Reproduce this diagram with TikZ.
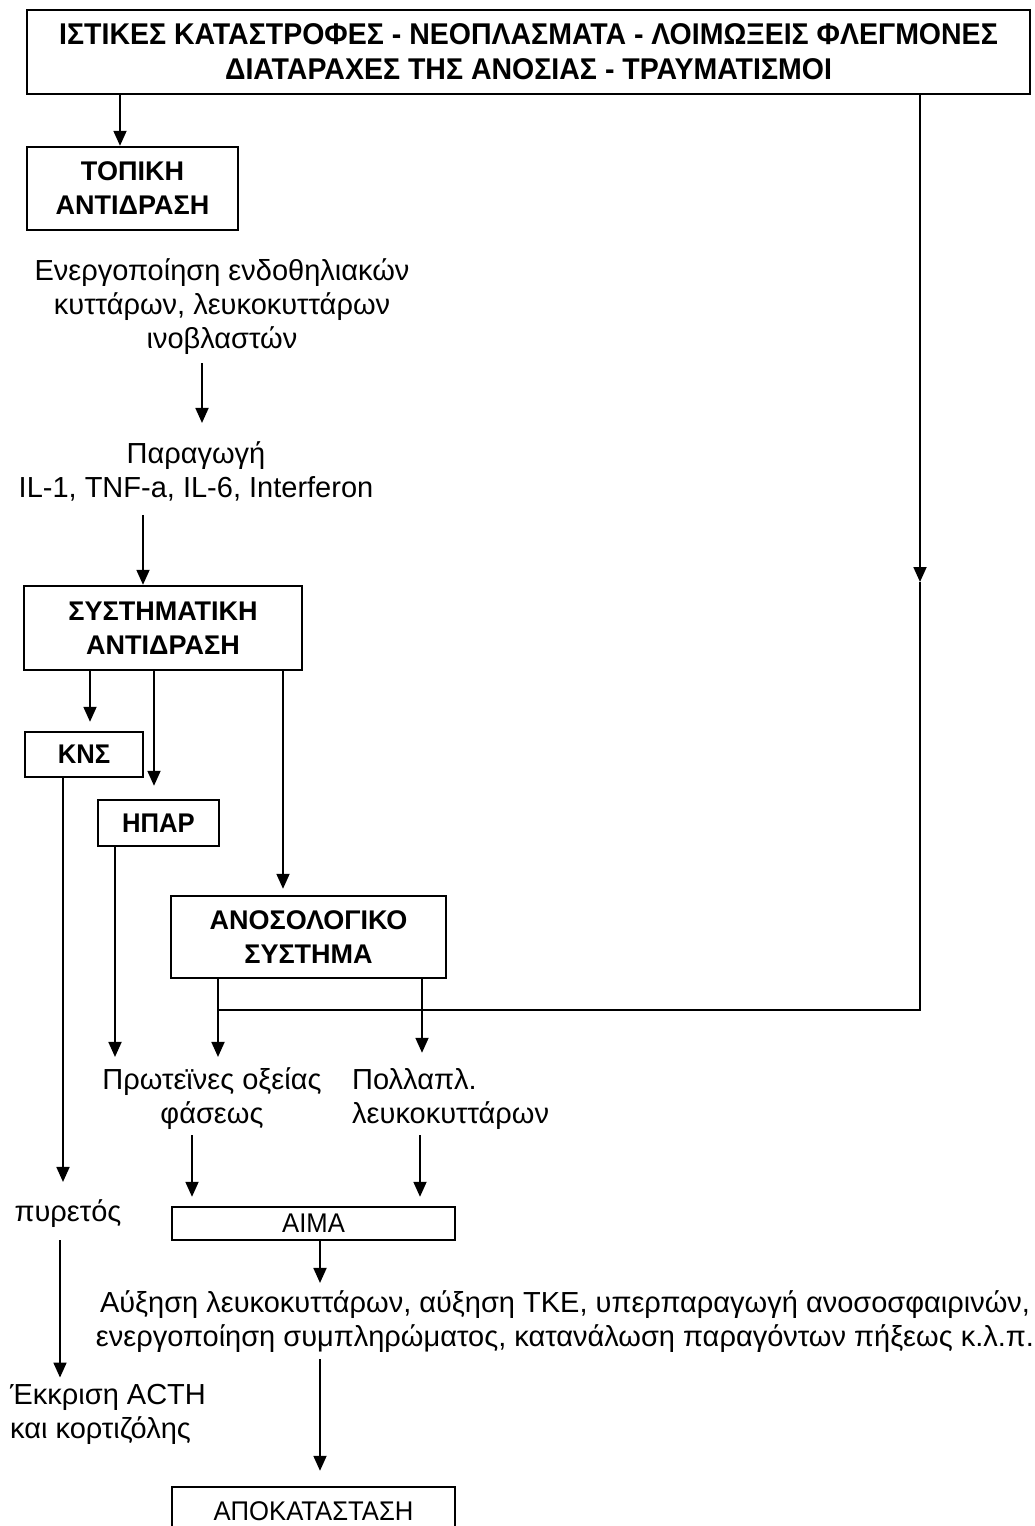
\documentclass[tikz,border=0pt]{standalone}
\usepackage{fontspec}
\setmainfont{Liberation Sans}
\newfontfamily\narrowfont[FakeStretch=0.95]{Liberation Sans}
\usepackage{tikz}
\usetikzlibrary{arrows.meta,calc}
\usetikzlibrary{positioning}
\tikzset{
    blok/.style={
           rectangle,
           draw=black, line width=2.4pt,
           inner sep=0pt,
           align=center,
           font=\fontsize{27}{34}\selectfont\bfseries,
           },
    tekst/.style={
           align=center,
           inner sep=0pt,
           font=\fontsize{29}{34}\selectfont,
           },
    pil/.style={
           -{Triangle[length=15pt,width=13pt]},
           line width=1.8pt,},
    lijn/.style={
           line width=1.8pt,}
}
\begin{document}
\begin{tikzpicture}[x=1pt,y=-1pt]
\useasboundingbox (0,0) rectangle (1035,1526);
% CAUSES
% Position of causes (TOPBOX)
\node[blok,
minimum width=1003pt,
minimum height=84pt,
font=\fontsize{30}{35}\selectfont\narrowfont\bfseries] (TOPBOX) at (528.5,52)
{ΙΣΤΙΚΕΣ ΚΑΤΑΣΤΡΟΦΕΣ - ΝΕΟΠΛΑΣΜΑΤΑ - ΛΟΙΜΩΞΕΙΣ ΦΛΕΓΜΟΝΕΣ\\
ΔΙΑΤΑΡΑΧΕΣ ΤΗΣ ΑΝΟΣΙΑΣ - ΤΡΑΥΜΑΤΙΣΜΟΙ};
% Position of local reaction (TOPIKH)
\node[blok,
minimum width=211pt,
minimum height=83pt] (TOPIKH) at (132.5,188.5)
{ΤΟΠΙΚΗ\\ΑΝΤΙΔΡΑΣΗ};
% Position of activation text (ENERG)
\node[tekst, anchor=base] (ENERG) at (222,348)
{Ενεργοποίηση ενδοθηλιακών\\
κυττάρων, λευκοκυττάρων\\
ινοβλαστών};
% Position of production text (PARAG)
\node[tekst, anchor=base] (PARAG) at (196,497)
{Παραγωγή\\IL-1, TNF-a, IL-6, Interferon};
% Position of systemic reaction (SYST)
\node[blok,
minimum width=278pt,
minimum height=84pt] (SYST) at (163,628)
{ΣΥΣΤΗΜΑΤΙΚΗ\\ΑΝΤΙΔΡΑΣΗ};
% Position of organs (KNS, HPAR, ANOS)
\node[blok,
minimum width=118pt,
minimum height=45pt,
font=\fontsize{27}{34}\selectfont\narrowfont\bfseries] (KNS) at (84,754.5) {ΚΝΣ};
\node[blok,
minimum width=121pt,
minimum height=46pt,
font=\fontsize{27}{34}\selectfont\narrowfont\bfseries] (HPAR) at (158.5,823) {ΗΠΑΡ};
\node[blok,
minimum width=275pt,
minimum height=82pt] (ANOS) at (308.5,937)
{ΑΝΟΣΟΛΟΓΙΚΟ\\ΣΥΣΤΗΜΑ};
% Position of effects (PROT, POLL, PYR)
\node[tekst, anchor=base] (PROT) at (212,1123)
{Πρωτεϊνες οξείας\\φάσεως};
\node[tekst, anchor=base west, align=left] (POLL) at (352,1123)
{Πολλαπλ.\\λευκοκυττάρων};
\node[tekst, anchor=base] (PYR) at (68,1221) {πυρετός};
% Position of blood (AIMA)
\node[blok,
minimum width=283pt,
minimum height=33pt,
font=\fontsize{27}{34}\selectfont\narrowfont] (AIMA) at (313.5,1223.5) {ΑΙΜΑ};
\node[tekst, anchor=base] (AYX) at (565,1346)
{Αύξηση λευκοκυττάρων, αύξηση ΤΚΕ, υπερπαραγωγή ανοσοσφαιρινών,\\
ενεργοποίηση συμπληρώματος, κατανάλωση παραγόντων πήξεως κ.λ.π.};
\node[tekst, anchor=base west, align=left] (EKKR) at (10,1438)
{Έκκριση ACTH\\και κορτιζόλης};
% Position of recovery (APOK)
\node[blok,
minimum width=283pt,
minimum height=48pt,
font=\fontsize{27}{34}\selectfont\narrowfont] (APOK) at (313.5,1511) {ΑΠΟΚΑΤΑΣΤΑΣΗ};
% Draw lines on graph
\draw[pil] ([xshift=-12.5pt]TOPIKH.north |- TOPBOX.south) -- ([xshift=-12.5pt]TOPIKH.north);
\draw[pil, shorten <=9pt, shorten >=18pt] ([xshift=-20pt]ENERG.south) -- ([xshift=-20pt]ENERG.south |- PARAG.north);
\draw[pil, shorten <=14pt] ([xshift=-20pt]SYST.north |- PARAG.south) -- ([xshift=-20pt]SYST.north);
\draw[pil, shorten >=9pt] ([xshift=6pt]KNS.north |- SYST.south) -- ([xshift=6pt]KNS.north);
\draw[pil, shorten >=13pt] ([xshift=-4.5pt]HPAR.north |- SYST.south) -- ([xshift=-4.5pt]HPAR.north);
\draw[pil, shorten >=6pt] ([xshift=-25.5pt]ANOS.north |- SYST.south) -- ([xshift=-25.5pt]ANOS.north);
\draw[pil, shorten >=17pt] ([xshift=-21pt]KNS.south) -- ([xshift=-21pt]KNS.south |- PYR.north);
\draw[pil, shorten <=13pt, shorten >=6pt] ([xshift=-8pt]PYR.south) -- ([xshift=-8pt]PYR.south |- EKKR.north);
\draw[pil, shorten >=10pt] ([xshift=-43.5pt]HPAR.south) -- ([xshift=-43.5pt]HPAR.south |- PROT.north);
\draw[pil, shorten >=10pt] ([xshift=-90.5pt]ANOS.south) -- ([xshift=-90.5pt]ANOS.south |- PROT.north);
\draw[pil, shorten >=15pt] ([xshift=113.5pt]ANOS.south) -- ([xshift=113.5pt]ANOS.south |- POLL.north);
% Draw in the long line from the causes
\coordinate (mid) at (920,582);
\coordinate (join) at (920,1010);
\draw[pil] (TOPBOX.south -| mid) -- (mid);
\draw[lijn] (mid) -- (join) -- ([xshift=-90.5pt]ANOS.south |- join);
% Draw in lines to the blood and below
\draw[pil, shorten <=6pt, shorten >=9pt] ([xshift=-121.5pt]AIMA.north |- PROT.south) -- ([xshift=-121.5pt]AIMA.north);
\draw[pil, shorten <=6pt, shorten >=9pt] ([xshift=106.5pt]AIMA.north |- POLL.south) -- ([xshift=106.5pt]AIMA.north);
\draw[pil, shorten >=7pt] ([xshift=6.5pt]AIMA.south) -- ([xshift=6.5pt]AIMA.south |- AYX.north);
\draw[pil, shorten <=7pt, shorten >=15pt] ([xshift=6.5pt]APOK.north |- AYX.south) -- ([xshift=6.5pt]APOK.north);
\end{tikzpicture}
\end{document}
